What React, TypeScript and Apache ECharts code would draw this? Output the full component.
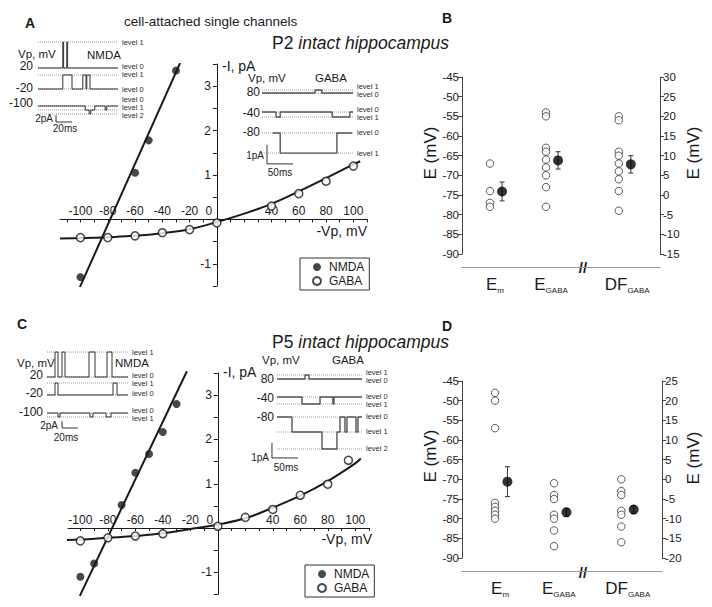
import React, { useEffect, useRef } from 'react';
import * as echarts from 'echarts';

const FONT = '"Liberation Sans", Arial, Helvetica, sans-serif';
const INK = '#1a1a1a';

// ---------- IV plots (A: P2, C: P5) ----------
const IV_X_LABELS = [-100, -80, -60, -40, -20, 0, 40, 60, 80, 100];
const IV_X_TICKS = [-110, -100, -90, -80, -70, -60, -50, -40, -30, -20, -10, 0, 10, 20, 30, 40, 50, 60, 70, 80, 90, 100, 110];
const IV_Y_LABELS = [-1, 1, 2, 3];
const IV_Y_TICKS = [-1.5, -1, -0.5, 0, 0.5, 1, 1.5, 2, 2.5, 3, 3.5];
const IV_Y_MIN = -1.5;
const IV_Y_MAX = 3.5;

const A_NMDA = [[-100, -1.3], [-60, 1.05], [-50, 1.78], [-30, 3.35]];
const A_NMDA_FIT = [[-100.5, -1.53], [-27, 3.52]];
const A_GABA = [[-100, -0.41], [-80, -0.41], [-60, -0.37], [-40, -0.3], [-20, -0.23], [0, -0.08], [40, 0.3], [60, 0.58], [80, 0.86], [100, 1.2]];
const A_GABA_FIT = [[-115, -0.43], [-100, -0.42], [-80, -0.4], [-60, -0.37], [-40, -0.31], [-20, -0.22], [0, -0.06], [20, 0.13], [40, 0.35], [60, 0.63], [80, 0.93], [100, 1.24], [105, 1.31]];

const C_NMDA = [[-100, -1.1], [-90, -0.8], [-70, 0.52], [-60, 1.25], [-50, 1.67], [-40, 2.17], [-30, 2.8]];
const C_NMDA_FIT = [[-100.4, -1.53], [-22.5, 3.54]];
const C_GABA = [[-100, -0.29], [-80, -0.22], [-60, -0.18], [-40, -0.13], [0, 0.04], [20, 0.24], [40, 0.42], [60, 0.74], [80, 0.99], [95, 1.53]];
const C_GABA_FIT = [[-113, -0.27], [-100, -0.26], [-80, -0.22], [-60, -0.18], [-40, -0.12], [-20, -0.02], [0, 0.08], [20, 0.22], [40, 0.46], [60, 0.73], [80, 1.06], [100, 1.46], [104, 1.57]];

// ---------- Reversal potentials (B: P2, D: P5) ----------
const CAT_MAIN = ['E', 'E', 'DF'];
const CAT_SUB = ['m', 'GABA', 'GABA'];

const B_EM = [-67, -74, -77, -78];
const B_EGABA = [-54, -55, -63, -64, -66, -68, -70, -73, -78];
const B_DF = [20, 19, 11, 10, 8, 6, 4, 1, -4]; // right axis
const B_MEAN = [-74.1, -66.2, 7.8];
const B_SEM = [2.4, 2.2, 2.2];

const D_EM = [-48, -50, -57, -76, -77, -78, -79, -80];
const D_EGABA = [-71, -74, -75, -79, -80, -83, -87];
const D_DF = [0, -3, -4, -8, -9, -12, -16]; // right axis
const D_MEAN = [-70.6, -78.4, -7.7];
const D_SEM = [3.8, 1.0, 1.0];

const B_POS = [1, 2, 3.3];
const D_POS = [1, 2, 3.14];
const B_LABEL_POS = [1.09, 2.09, 3.45];
const D_LABEL_POS = [1.085, 2.08, 3.25];

// ---------- single-channel traces: [time ms, amplitude pA] step breakpoints ----------
const A_NMDA_T1 = [[0, 0], [31, 7.43], [32, 0], [36, 7.43], [37, 0], [100, 0]];
const A_NMDA_T2 = [[0, 0], [31, 4.0], [42.5, 0], [56, 4.0], [60, 0], [61, 4.0], [65, 0], [100, 0]];
const A_NMDA_T3 = [[0, 0], [59, -1.15], [64, -2.29], [66, -1.15], [71, 0], [84, -1.15], [86, 0], [100, 0]];
const A_NMDA_BASE = [17.14, 11.14, 6.29];
const A_NMDA_LEVELS = [[0, 7.43], [0, 4.0], [0, -1.15, -2.29]];

const A_GABA_T1 = [[0, 0], [102, 0.16], [115, 0], [175, 0]];
const A_GABA_T2 = [[0, 0], [27, -0.26], [35, 0], [135, -0.26], [169, 0], [175, 0]];
const A_GABA_T3 = [[21, 0], [35, -1.06], [144, 0], [173, 0]];
const A_GABA_BASE = [4.05, 3.05, 1.95];
const A_GABA_LEVELS = [[0, 0.16], [0, -0.26], [0, -1.06]];

const C_NMDA_T1 = [[0, 0], [10, 7.14], [13.75, 0], [18.75, 7.14], [22.5, 0], [52.5, 7.14], [60, 0], [75, 7.14], [81.25, 0], [101.25, 0]];
const C_NMDA_T2 = [[0, 0], [10, 3.43], [13.75, 0], [82.5, 3.43], [87.5, 0], [101.25, 0]];
const C_NMDA_T3 = [[0, 0], [13.75, -1.14], [16.25, 0], [53.75, -1.14], [57.5, 0], [73.75, -1.14], [80, 0], [101.25, 0]];
const C_NMDA_BASE = [15.71, 10.57, 5.43];
const C_NMDA_LEVELS = [[0, 7.14], [0, 3.43], [0, -1.14]];

const C_GABA_T1 = [[13.5, 0], [67.3, 0.27], [75, 0], [177, 0]];
const C_GABA_T2 = [[13.5, 0], [61.5, -0.46], [96.2, 0], [121, -0.46], [123, 0], [177, 0]];
const C_GABA_T3 = [[13.5, 0], [42.3, -1.0], [100, -2.13], [128.8, -1.0], [134.6, 0], [144.2, -1.0], [148.1, 0], [165.4, -1.0], [169.2, 0], [177, 0]];
const C_GABA_BASE = [5.73, 4.53, 3.2];
const C_GABA_LEVELS = [[0, 0.27], [0, -0.46], [0, -1.0, -2.13]];

// scale bars: [t0 ms, bottom pA, pA length, ms length]
const A_NMDA_SCALE = [22.5, 1.71, 2, 20];
const A_GABA_SCALE = [9.6, 0.32, 1, 50];
const C_NMDA_SCALE = [18.75, 1.14, 2, 20];
const C_GABA_SCALE = [3.8, 0.47, 1, 50];

function txt(text: string, x: number, y: number, size: number, extra: any = {}) {
  return {
    type: 'text', x, y, silent: true,
    rotation: extra.rotation || 0,
    style: {
      text, fontSize: size, fontFamily: FONT, fill: INK,
      align: extra.align || 'left', verticalAlign: 'middle',
      fontWeight: extra.fontWeight || 'normal', fontStyle: extra.fontStyle || 'normal',
    },
  };
}

// x axis drawn through y = 0 of the grid (offset computed from axis ranges)
function ivX(gridIndex: number, min: number, max: number, gridHeight: number) {
  const offset = -gridHeight * (0 - IV_Y_MIN) / (IV_Y_MAX - IV_Y_MIN);
  return {
    type: 'value', gridIndex, min, max, position: 'bottom', offset,
    axisLine: { onZero: false, lineStyle: { color: INK, width: 1 } },
    axisTick: { show: true, customValues: IV_X_TICKS, length: 3, lineStyle: { color: INK } },
    axisLabel: {
      show: true, customValues: IV_X_LABELS, inside: true, margin: 2, fontSize: 12, fontFamily: FONT, color: INK,
      formatter: (v: number) => (v === 0 ? '{z|0}' : String(v)),
      rich: { z: { padding: [0, 16, 0, 0], fontSize: 12, fontFamily: FONT, color: INK } },
    },
    splitLine: { show: false },
  };
}
// y axis drawn through x = 0
function ivY(gridIndex: number, xmin: number, xmax: number, gridWidth: number) {
  const offset = -gridWidth * (0 - xmin) / (xmax - xmin);
  return {
    type: 'value', gridIndex, min: IV_Y_MIN, max: IV_Y_MAX, position: 'left', offset,
    axisLine: { onZero: false, lineStyle: { color: INK, width: 1 } },
    axisTick: { show: true, customValues: IV_Y_TICKS, length: 4, lineStyle: { color: INK } },
    axisLabel: { show: true, customValues: IV_Y_LABELS, margin: 6, fontSize: 12, fontFamily: FONT, color: INK },
    splitLine: { show: false },
  };
}
function catX(gridIndex: number, min: number, max: number, labelPos: number[]) {
  return {
    type: 'value', gridIndex, min, max, offset: 13,
    axisLine: { show: true, onZero: false, lineStyle: { color: '#999', width: 1.2 } },
    axisTick: { show: false },
    axisLabel: {
      show: true, customValues: labelPos, margin: 7, fontSize: 17, fontFamily: FONT, color: INK, lineHeight: 20,
      formatter: (v: number) => {
        const i = labelPos.findIndex((p) => Math.abs(p - v) < 1e-6);
        if (i < 0) return '';
        return `${CAT_MAIN[i]}{s|${CAT_SUB[i]}}`;
      },
      rich: { s: { fontSize: 8, fontFamily: FONT, color: INK, lineHeight: 20, verticalAlign: 'bottom' } },
    },
    splitLine: { show: false },
  };
}
function eY(gridIndex: number, min: number, max: number, position: string) {
  return {
    type: 'value', gridIndex, min, max, interval: 5, position,
    axisLine: { show: true, onZero: false, lineStyle: { color: '#444', width: 1 } },
    axisTick: { show: true, length: 4, lineStyle: { color: '#444' } },
    axisLabel: { show: true, margin: 3, fontSize: 11.5, fontFamily: FONT, color: INK },
    splitLine: { show: false },
  };
}
function hidden(gridIndex: number, min: number, max: number) {
  return { type: 'value', gridIndex, min, max, show: false, splitLine: { show: false } };
}

const errRender = (params: any, api: any) => {
  const x = api.value(0), y = api.value(1), e = api.value(2);
  const top = api.coord([x, y + e]);
  const bot = api.coord([x, y - e]);
  const cap = 2.5;
  const st = { stroke: '#333', lineWidth: 1 };
  return {
    type: 'group',
    children: [
      { type: 'line', shape: { x1: top[0], y1: top[1], x2: bot[0], y2: bot[1] }, style: st },
      { type: 'line', shape: { x1: top[0] - cap, y1: top[1], x2: top[0] + cap, y2: top[1] }, style: st },
      { type: 'line', shape: { x1: bot[0] - cap, y1: bot[1], x2: bot[0] + cap, y2: bot[1] }, style: st },
    ],
  };
};

function ePanelSeries(xi: number, yl: number, yr: number, pos: number[], em: number[], eg: number[], df: number[], mean: number[], sem: number[], shift: number) {
  const open = { symbol: 'circle', symbolSize: 7.5, itemStyle: { color: '#fff', borderColor: '#333', borderWidth: 1 } };
  return [
    { type: 'scatter', xAxisIndex: xi, yAxisIndex: yl, silent: true, ...open, data: [...em.map((v) => [pos[0], v]), ...eg.map((v) => [pos[1], v])], z: 3 },
    { type: 'scatter', xAxisIndex: xi, yAxisIndex: yr, silent: true, ...open, data: df.map((v) => [pos[2], v]), z: 3 },
    { type: 'custom', xAxisIndex: xi, yAxisIndex: yl, silent: true, renderItem: errRender, data: [0, 1].map((i) => [pos[i] + shift, mean[i], sem[i]]), z: 2 },
    { type: 'custom', xAxisIndex: xi, yAxisIndex: yr, silent: true, renderItem: errRender, data: [[pos[2] + shift, mean[2], sem[2]]], z: 2 },
    { type: 'scatter', xAxisIndex: xi, yAxisIndex: yl, silent: true, symbol: 'circle', symbolSize: 10, itemStyle: { color: '#000' }, data: [0, 1].map((i) => [pos[i] + shift, mean[i]]), z: 4 },
    { type: 'scatter', xAxisIndex: xi, yAxisIndex: yr, silent: true, symbol: 'circle', symbolSize: 10, itemStyle: { color: '#000' }, data: [[pos[2] + shift, mean[2]]], z: 4 },
  ];
}

function insetSeries(xi: number, yi: number, traces: number[][][], bases: number[], levels: number[][], labelDy: number[][], span: number[], scale: number[], color: string, width: number) {
  const out: any[] = [];
  traces.forEach((tr, k) => {
    levels[k].forEach((lv, j) => {
      out.push({
        type: 'line', xAxisIndex: xi, yAxisIndex: yi, silent: true, symbol: 'none', z: 2,
        color: '#9a9a9a',
        data: [[span[0], bases[k] + lv], [span[1], bases[k] + lv]],
        lineStyle: { color: '#9a9a9a', width: 1, type: 'dotted' },
        endLabel: {
          show: true, formatter: 'level ' + j, fontSize: 7.5, lineHeight: 8, fontFamily: FONT, color: '#2a2a2a',
          textBorderWidth: 0, distance: 4, offset: [0, labelDy[k][j]],
        },
      });
    });
    out.push({
      type: 'line', xAxisIndex: xi, yAxisIndex: yi, silent: true, symbol: 'none', step: 'end', z: 3,
      color,
      data: tr.map(([t, a]) => [t, bases[k] + a]),
      lineStyle: { color, width },
    });
  });
  const [t0, y0, pa, ms] = scale;
  out.push({
    type: 'line', xAxisIndex: xi, yAxisIndex: yi, silent: true, symbol: 'none', z: 3,
    color: '#333',
    data: [[t0, y0 + pa], [t0, y0], [t0 + ms, y0]],
    lineStyle: { color: '#333', width: 1 },
  });
  return out;
}

function buildOption() {
  const gA = { left: 60, top: 64, width: 307, height: 222 };
  const gC = { left: 68, top: 373, width: 301, height: 221.5 };
  const A_XMIN = -115, A_XMAX = 110, C_XMIN = -109, C_XMAX = 110;
  const grids = [
    gA,                                               // 0 A
    { left: 462, top: 77, width: 198, height: 177 },  // 1 B
    gC,                                               // 2 C
    { left: 462, top: 381, width: 200, height: 177 }, // 3 D
    { left: 38, top: 38, width: 80, height: 90 },     // 4 inset A NMDA
    { left: 262, top: 85, width: 91, height: 85 },    // 5 inset A GABA
    { left: 47, top: 348, width: 81, height: 84 },    // 6 inset C NMDA
    { left: 270, top: 370, width: 92, height: 95 },   // 7 inset C GABA
  ];
  const xAxis = [
    ivX(0, A_XMIN, A_XMAX, gA.height),
    catX(1, 0.5, 4.036, B_LABEL_POS),
    ivX(2, C_XMIN, C_XMAX, gC.height),
    catX(3, 0.44, 3.83, D_LABEL_POS),
    hidden(4, 0, 100),
    hidden(5, 0, 175),
    hidden(6, 0, 101.25),
    hidden(7, 0, 177),
  ];
  const yAxis = [
    ivY(0, A_XMIN, A_XMAX, gA.width), // 0
    eY(1, -90, -45, 'left'),          // 1
    eY(1, -15, 30, 'right'),          // 2
    ivY(2, C_XMIN, C_XMAX, gC.width), // 3
    eY(3, -90, -45, 'left'),          // 4
    eY(3, -20, 25, 'right'),          // 5
    hidden(4, 0, 25.714),             // 6
    hidden(5, 0, 4.474),              // 7
    hidden(6, 0, 24),                 // 8
    hidden(7, 0, 6.333),              // 9
  ];

  const openIV = { symbol: 'circle', symbolSize: 8, itemStyle: { color: '#fff', borderColor: INK, borderWidth: 1.5 } };
  const fillIV = { symbol: 'circle', symbolSize: 8, itemStyle: { color: INK } };
  const fitStyle = { color: INK, width: 2 };

  const series: any[] = [
    // A
    { name: 'NMDA fit A', type: 'line', xAxisIndex: 0, yAxisIndex: 0, symbol: 'none', data: A_NMDA_FIT, lineStyle: fitStyle, silent: true, z: 2 },
    { name: 'GABA fit A', type: 'line', xAxisIndex: 0, yAxisIndex: 0, symbol: 'none', smooth: 0.4, data: A_GABA_FIT, lineStyle: fitStyle, silent: true, z: 2 },
    { name: 'NMDA', type: 'scatter', xAxisIndex: 0, yAxisIndex: 0, ...fillIV, data: A_NMDA, z: 3 },
    { name: 'GABA', type: 'scatter', xAxisIndex: 0, yAxisIndex: 0, ...openIV, data: A_GABA, z: 3 },
    // C
    { name: 'NMDA fit C', type: 'line', xAxisIndex: 2, yAxisIndex: 3, symbol: 'none', data: C_NMDA_FIT, lineStyle: fitStyle, silent: true, clip: false, z: 2 },
    { name: 'GABA fit C', type: 'line', xAxisIndex: 2, yAxisIndex: 3, symbol: 'none', smooth: 0.4, data: C_GABA_FIT, lineStyle: fitStyle, silent: true, clip: false, z: 2 },
    { name: 'NMDA', type: 'scatter', xAxisIndex: 2, yAxisIndex: 3, ...fillIV, data: C_NMDA, z: 3 },
    { name: 'GABA', type: 'scatter', xAxisIndex: 2, yAxisIndex: 3, ...openIV, data: C_GABA, z: 3 },
    // B, D
    ...ePanelSeries(1, 1, 2, B_POS, B_EM, B_EGABA, B_DF, B_MEAN, B_SEM, 0.215),
    ...ePanelSeries(3, 4, 5, D_POS, D_EM, D_EGABA, D_DF, D_MEAN, D_SEM, 0.21),
    // insets
    ...insetSeries(4, 6, [A_NMDA_T1, A_NMDA_T2, A_NMDA_T3], A_NMDA_BASE, A_NMDA_LEVELS, [[-2, 0], [0, -1], [-6, -2.5, 1.5]], [0, 100], A_NMDA_SCALE, '#333', 1),
    ...insetSeries(5, 7, [A_GABA_T1, A_GABA_T2, A_GABA_T3], A_GABA_BASE, A_GABA_LEVELS, [[1, -4], [-2.5, 1], [0, 0]], [0, 175], A_GABA_SCALE, '#555', 1.4),
    ...insetSeries(6, 8, [C_NMDA_T1, C_NMDA_T2, C_NMDA_T3], C_NMDA_BASE, C_NMDA_LEVELS, [[-2, 0], [-2, 0], [-2, 1.5]], [0, 101.25], C_NMDA_SCALE, '#333', 1),
    ...insetSeries(7, 9, [C_GABA_T1, C_GABA_T2, C_GABA_T3], C_GABA_BASE, C_GABA_LEVELS, [[1, -2.5], [-1, 0.5], [0, 0, 0]], [13.5, 177], C_GABA_SCALE, '#555', 1.4),
  ];

  const legendBase = {
    data: ['NMDA', 'GABA'], orient: 'vertical', selectedMode: false,
    itemWidth: 8, itemHeight: 8, itemGap: 2, padding: [3, 5, 3, 12],
    borderColor: '#333', borderWidth: 1, backgroundColor: '#fff',
    textStyle: { fontSize: 12, fontFamily: FONT, color: INK, padding: [0, 0, 0, 3] },
  };

  const titleRich = (p: string) => ({
    text: `{n|${p} }{i|intact hippocampus}`,
    rich: { n: { fontSize: 17.5, fontFamily: FONT, fill: INK }, i: { fontSize: 17.5, fontFamily: FONT, fontStyle: 'italic', fill: INK } },
  });

  const graphic: any[] = [
    txt('A', 30, 23, 14, { fontWeight: 'bold', align: 'center' }),
    txt('B', 447, 18, 14, { fontWeight: 'bold', align: 'center' }),
    txt('C', 22, 324, 14, { fontWeight: 'bold', align: 'center' }),
    txt('D', 447, 326, 14, { fontWeight: 'bold', align: 'center' }),
    txt('cell-attached single channels', 124, 21, 13.5),
    { type: 'text', x: 272, y: 43, silent: true, style: { ...titleRich('P2'), fontSize: 17.5, fontFamily: FONT, verticalAlign: 'middle', align: 'left' } },
    { type: 'text', x: 272, y: 342, silent: true, style: { ...titleRich('P5'), fontSize: 17.5, fontFamily: FONT, verticalAlign: 'middle', align: 'left' } },
    txt('-I, pA', 222, 66, 14),
    txt('-I, pA', 223, 372, 14),
    txt('-Vp, mV', 367, 231, 14, { align: 'right' }),
    txt('-Vp, mV', 372, 539, 14, { align: 'right' }),
    txt('E (mV)', 430, 153, 17, { align: 'center', rotation: Math.PI / 2 }),
    txt('E (mV)', 693, 153, 17, { align: 'center', rotation: Math.PI / 2 }),
    txt('E (mV)', 430, 456, 17, { align: 'center', rotation: Math.PI / 2 }),
    txt('E (mV)', 693, 458, 17, { align: 'center', rotation: Math.PI / 2 }),
    txt('//', 583, 267, 15, { align: 'center', fontWeight: 'bold' }),
    txt('//', 583, 572, 15, { align: 'center', fontWeight: 'bold' }),
    // inset A NMDA
    txt('Vp, mV', 18, 54, 11.5),
    txt('NMDA', 87, 55, 11.5),
    txt('20', 33, 66, 12, { align: 'right' }),
    txt('-20', 33, 88, 12, { align: 'right' }),
    txt('-100', 33, 103, 12, { align: 'right' }),
    txt('2pA', 53, 118, 10, { align: 'right' }),
    txt('20ms', 65, 128, 10, { align: 'center' }),
    // inset A GABA
    txt('Vp, mV', 248, 78, 11.5),
    txt('GABA', 315, 78, 11.5),
    txt('80', 260, 92, 12, { align: 'right' }),
    txt('-40', 260, 113, 12, { align: 'right' }),
    txt('-80', 260, 132, 12, { align: 'right' }),
    txt('1pA', 264, 155, 10, { align: 'right' }),
    txt('50ms', 280, 172, 10, { align: 'center' }),
    // inset C NMDA
    txt('Vp, mV', 17, 363, 11.5),
    txt('NMDA', 115, 363, 11.5),
    txt('20', 43, 375, 12, { align: 'right' }),
    txt('-20', 43, 393, 12, { align: 'right' }),
    txt('-100', 43, 412, 12, { align: 'right' }),
    txt('2pA', 58, 425, 10, { align: 'right' }),
    txt('20ms', 66, 437, 10, { align: 'center' }),
    // inset C GABA
    txt('Vp, mV', 262, 360, 11.5),
    txt('GABA', 332, 360, 11.5),
    txt('80', 274, 379, 12, { align: 'right' }),
    txt('-40', 274, 398, 12, { align: 'right' }),
    txt('-80', 274, 417, 12, { align: 'right' }),
    txt('1pA', 269, 457, 10, { align: 'right' }),
    txt('50ms', 286, 467, 10, { align: 'center' }),
  ];

  return {
    animation: false,
    backgroundColor: '#fff',
    textStyle: { fontFamily: FONT },
    grid: grids,
    xAxis,
    yAxis,
    legend: [
      { ...legendBase, left: 300, top: 258 },
      { ...legendBase, left: 305, top: 565 },
    ],
    series,
    graphic,
  };
}

export default function App() {
  const ref = useRef<HTMLDivElement>(null);
  useEffect(() => {
    const chart = echarts.init(ref.current as HTMLDivElement, null, { renderer: 'svg' });
    chart.setOption(buildOption() as any);
    return () => chart.dispose();
  }, []);
  return <div ref={ref} style={{ position: 'fixed', left: 0, top: 0, width: 712, height: 607, background: '#fff' }} />;
}
